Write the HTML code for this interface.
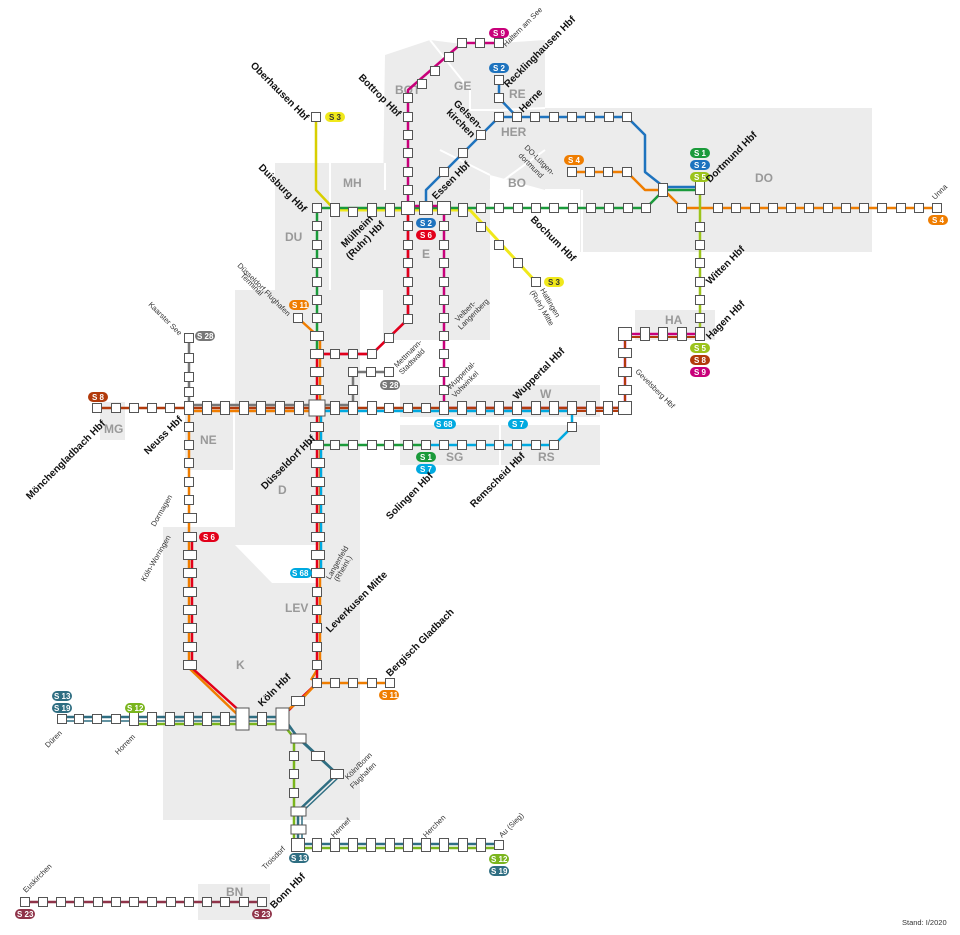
<!DOCTYPE html>
<html><head><meta charset="utf-8"><style>
html,body{margin:0;padding:0;background:#fff}
svg{display:block}
text{font-family:"Liberation Sans",sans-serif}
.r{font-size:12px;font-weight:bold;fill:#999}
.b{font-size:10px;font-weight:bold;fill:#111}
.s{font-size:7.5px;fill:#333}
.bd{font-size:8px;font-weight:bold;fill:#fff}
</style></head><body>
<svg width="960" height="935" viewBox="0 0 960 935" xmlns="http://www.w3.org/2000/svg">
<defs>
<rect id="s" x="-4.5" y="-4.5" width="9" height="9" fill="#fff" stroke="#555" stroke-width="1"/>
<rect id="S" x="-6.5" y="-6.5" width="13" height="13" fill="#fff" stroke="#555" stroke-width="1"/>
<rect id="h" x="-6.5" y="-4.5" width="13" height="9" fill="#fff" stroke="#555" stroke-width="1"/>
<rect id="v" x="-4.5" y="-6.5" width="9" height="13" fill="#fff" stroke="#555" stroke-width="1"/>
</defs>
<!-- regions -->
<g fill="#ececec">
<polygon points="385,55 430,40 470,45 545,40 545,108 872,108 872,252 580,252 580,190 545,190 490,175 490,340 383,340 383,190"/>
<rect x="275" y="163" width="110" height="127"/>
<rect x="235" y="290" width="125" height="255"/>
<polygon points="163,527 235,527 235,545 272,583 272,638 360,638 360,820 163,820"/>
<rect x="272" y="583" width="88" height="55"/>
<rect x="320" y="545" width="40" height="40"/>
<rect x="185" y="410" width="48" height="60"/>
<rect x="100" y="402" width="25" height="38"/>
<rect x="400" y="385" width="200" height="32"/>
<rect x="400" y="425" width="200" height="40"/>
<rect x="635" y="310" width="80" height="30"/>
<rect x="198" y="884" width="72" height="36"/>
</g>
<g stroke="#fff" stroke-width="2" fill="none">
<path d="M330,163 V290 M385,163 V190 M490,190 L545,150 M580,190 H545 M582,252 V190 M430,40 L470,90 L470,110 M470,110 L500,110 L545,108 M440,150 L490,175 M500,425 V465"/>
</g>
<g class="r">
<text x="395" y="94">BOT</text><text x="454" y="90">GE</text><text x="509" y="98">RE</text><text x="501" y="136">HER</text>
<text x="343" y="187">MH</text><text x="508" y="187">BO</text><text x="755" y="182">DO</text><text x="285" y="241">DU</text>
<text x="422" y="258">E</text><text x="665" y="324">HA</text><text x="540" y="398">W</text><text x="446" y="461">SG</text>
<text x="538" y="461">RS</text><text x="200" y="444">NE</text><text x="104" y="433">MG</text><text x="278" y="494">D</text>
<text x="285" y="612">LEV</text><text x="236" y="669">K</text><text x="226" y="896">BN</text>
</g>
<!-- lines -->
<g fill="none" stroke-width="2.5" stroke-linejoin="round">
<path d="M316,117 V190 L333,208" stroke="#d8cf00"/>
<path d="M333,210 H470 L536,282" stroke="#f0e81b" stroke-width="3"/>
<path d="M316,208 H646 L664,190 H700" stroke="#1a9a3a"/>
<path d="M426,210 V190 L499,117 H627 L645,135 V172 L664,187 H700" stroke="#1e73be"/>
<path d="M499,80 V98 L517,117" stroke="#1e73be"/>
<path d="M572,172 H627 L645,190 L664,190 L682,208 H938" stroke="#ef7d00"/>
<path d="M700,190 V334" stroke="#9bc31b"/>
<path d="M499,43 H462 L408,90 V319 L372,354 H317" stroke="#c8007a"/>
<path d="M408,210 V319 L372,354 H317" stroke="#e2001a"/>
<path d="M408,206 H444 V408 H625 V334 H700" stroke="#c8007a"/>
<path d="M444,411 H625 V337 H700" stroke="#b23a0b" stroke-width="2"/>
<path d="M97,408 H625" stroke="#b23a0b"/>
<path d="M189,405 H353 V372 H389 M189,338 V405" stroke="#777"/>
<path d="M189,411 H317 M298,318 L320,338 V665 L311,680" stroke="#ef7d00"/>
<path d="M317,208 V354" stroke="#1a9a3a"/>
<path d="M317,354 V683 L298,701 L283,716" stroke="#e2001a"/>
<path d="M321,411 H572 V427 L554,445 H426 M321,411 V573" stroke="#00a9e0"/>
<path d="M317,445 H426" stroke="#1a9a3a"/>
<path d="M317,683 H390 M317,683 L300,701 L283,713" stroke="#ef7d00"/>
<path d="M189,411 V668 L240,717" stroke="#ef7d00"/>
<path d="M192,537 V668 L243,714" stroke="#e2001a"/>
<path d="M62,717 H283 L298,738 L337,774 L298,811 V844 H499" stroke="#2f6e82"/>
<path d="M62,721 H283 L302,740 L340,776 L302,812 V848 H499" stroke="#2f6e82" stroke-width="1.5"/>
<path d="M135,724 H283 L294,738 V844 M294,848 H499" stroke="#7ab51d"/>
<path d="M25,902 H262" stroke="#8f3349"/>
</g>
<!-- stations -->
<g>
<use href="#s" x="316" y="117"/>
<use href="#s" x="462" y="43"/><use href="#s" x="480" y="43"/><use href="#s" x="499" y="43"/>
<use href="#s" x="449" y="57"/><use href="#s" x="435" y="71"/><use href="#s" x="422" y="84"/>
<use href="#s" x="408" y="98"/><use href="#s" x="408" y="117"/><use href="#s" x="408" y="135"/><use href="#s" x="408" y="153"/><use href="#s" x="408" y="172"/><use href="#s" x="408" y="190"/>
<use href="#s" x="499" y="80"/><use href="#s" x="499" y="98"/>
<use href="#s" x="499" y="117"/><use href="#s" x="517" y="117"/><use href="#s" x="535" y="117"/><use href="#s" x="554" y="117"/><use href="#s" x="572" y="117"/><use href="#s" x="590" y="117"/><use href="#s" x="609" y="117"/><use href="#s" x="627" y="117"/>
<use href="#s" x="481" y="135"/><use href="#s" x="463" y="153"/><use href="#s" x="444" y="172"/>
<use href="#s" x="572" y="172"/><use href="#s" x="590" y="172"/><use href="#s" x="608" y="172"/><use href="#s" x="627" y="172"/>
<use href="#s" x="317" y="208"/><use href="#v" x="335" y="210"/><use href="#s" x="353" y="212"/><use href="#v" x="372" y="210"/><use href="#v" x="390" y="210"/><use href="#S" x="408" y="208"/><use href="#S" x="426" y="208"/><use href="#S" x="444" y="208"/><use href="#v" x="463" y="210"/>
<use href="#s" x="481" y="208"/><use href="#s" x="499" y="208"/><use href="#s" x="518" y="208"/><use href="#s" x="536" y="208"/><use href="#s" x="554" y="208"/><use href="#s" x="573" y="208"/><use href="#s" x="591" y="208"/><use href="#s" x="609" y="208"/><use href="#s" x="628" y="208"/><use href="#s" x="646" y="208"/>
<use href="#v" x="663" y="190"/><use href="#v" x="700" y="188"/>
<use href="#s" x="682" y="208"/><use href="#s" x="718" y="208"/><use href="#s" x="736" y="208"/><use href="#s" x="755" y="208"/><use href="#s" x="773" y="208"/><use href="#s" x="791" y="208"/><use href="#s" x="809" y="208"/><use href="#s" x="828" y="208"/><use href="#s" x="846" y="208"/><use href="#s" x="864" y="208"/><use href="#s" x="882" y="208"/><use href="#s" x="901" y="208"/><use href="#s" x="919" y="208"/><use href="#s" x="937" y="208"/>
<use href="#s" x="481" y="227"/><use href="#s" x="499" y="245"/><use href="#s" x="518" y="263"/><use href="#s" x="536" y="282"/>
<use href="#s" x="700" y="227"/><use href="#s" x="700" y="245"/><use href="#s" x="700" y="263"/><use href="#s" x="700" y="282"/><use href="#s" x="700" y="300"/><use href="#s" x="700" y="318"/><use href="#v" x="700" y="334"/>
<use href="#S" x="625" y="334"/><use href="#v" x="645" y="334"/><use href="#v" x="663" y="334"/><use href="#v" x="682" y="334"/>
<use href="#h" x="625" y="353"/><use href="#h" x="625" y="372"/><use href="#h" x="625" y="390"/>
<use href="#s" x="408" y="226"/><use href="#s" x="408" y="245"/><use href="#s" x="408" y="263"/><use href="#s" x="408" y="282"/><use href="#s" x="408" y="300"/><use href="#s" x="408" y="319"/><use href="#s" x="389" y="338"/><use href="#s" x="372" y="354"/><use href="#s" x="353" y="354"/><use href="#s" x="335" y="354"/>
<use href="#s" x="444" y="226"/><use href="#s" x="444" y="245"/><use href="#s" x="444" y="263"/><use href="#s" x="444" y="282"/><use href="#s" x="444" y="300"/><use href="#s" x="444" y="318"/><use href="#s" x="444" y="336"/><use href="#s" x="444" y="354"/><use href="#s" x="444" y="372"/><use href="#s" x="444" y="390"/>
<use href="#s" x="317" y="226"/><use href="#s" x="317" y="245"/><use href="#s" x="317" y="263"/><use href="#s" x="317" y="282"/><use href="#s" x="317" y="300"/><use href="#s" x="317" y="318"/><use href="#h" x="317" y="336"/><use href="#h" x="317" y="354"/><use href="#h" x="317" y="372"/><use href="#h" x="317" y="390"/>
<use href="#s" x="298" y="318"/>
<use href="#s" x="189" y="338"/><use href="#s" x="189" y="358"/><use href="#s" x="189" y="377"/><use href="#s" x="189" y="392"/>
<use href="#s" x="353" y="372"/><use href="#s" x="371" y="372"/><use href="#s" x="389" y="372"/><use href="#s" x="353" y="390"/>
<use href="#s" x="97" y="408"/><use href="#s" x="116" y="408"/><use href="#s" x="134" y="408"/><use href="#s" x="152" y="408"/><use href="#s" x="170" y="408"/>
<use href="#v" x="189" y="408"/><use href="#v" x="207" y="408"/><use href="#v" x="225" y="408"/><use href="#v" x="244" y="408"/><use href="#v" x="261" y="408"/><use href="#v" x="280" y="408"/><use href="#v" x="299" y="408"/>
<rect x="309" y="400" width="16" height="16" fill="#fff" stroke="#555"/>
<use href="#v" x="335" y="408"/><use href="#v" x="353" y="408"/><use href="#v" x="372" y="408"/><use href="#s" x="389" y="408"/><use href="#s" x="408" y="408"/><use href="#s" x="426" y="408"/><use href="#v" x="444" y="408"/>
<use href="#v" x="462" y="408"/><use href="#v" x="481" y="408"/><use href="#v" x="499" y="408"/><use href="#v" x="517" y="408"/><use href="#v" x="536" y="408"/><use href="#v" x="554" y="408"/><use href="#v" x="572" y="408"/><use href="#v" x="591" y="408"/><use href="#v" x="608" y="408"/><use href="#S" x="625" y="408"/>
<use href="#s" x="572" y="427"/>
<use href="#h" x="317" y="427"/><use href="#h" x="317" y="445"/>
<use href="#s" x="335" y="445"/><use href="#s" x="353" y="445"/><use href="#s" x="372" y="445"/><use href="#s" x="389" y="445"/><use href="#s" x="408" y="445"/><use href="#s" x="426" y="445"/><use href="#s" x="444" y="445"/><use href="#s" x="462" y="445"/><use href="#s" x="481" y="445"/><use href="#s" x="499" y="445"/><use href="#s" x="517" y="445"/><use href="#s" x="536" y="445"/><use href="#s" x="554" y="445"/>
<use href="#s" x="189" y="427"/><use href="#s" x="189" y="445"/><use href="#s" x="189" y="463"/><use href="#s" x="189" y="482"/><use href="#s" x="189" y="500"/><use href="#h" x="190" y="518"/><use href="#h" x="190" y="537"/><use href="#h" x="190" y="555"/><use href="#h" x="190" y="573"/><use href="#h" x="190" y="592"/><use href="#h" x="190" y="610"/><use href="#h" x="190" y="628"/><use href="#h" x="190" y="647"/><use href="#h" x="190" y="665"/>
<use href="#h" x="318" y="463"/><use href="#h" x="318" y="482"/><use href="#h" x="318" y="500"/><use href="#h" x="318" y="518"/><use href="#h" x="318" y="537"/><use href="#h" x="318" y="555"/><use href="#h" x="318" y="573"/>
<use href="#s" x="317" y="592"/><use href="#s" x="317" y="610"/><use href="#s" x="317" y="628"/><use href="#s" x="317" y="647"/><use href="#s" x="317" y="665"/><use href="#s" x="317" y="683"/>
<use href="#s" x="335" y="683"/><use href="#s" x="353" y="683"/><use href="#s" x="372" y="683"/><use href="#s" x="390" y="683"/>
<use href="#h" x="298" y="701"/>
<use href="#s" x="62" y="719"/><use href="#s" x="79" y="719"/><use href="#s" x="97" y="719"/><use href="#s" x="116" y="719"/><use href="#v" x="134" y="719"/><use href="#v" x="152" y="719"/><use href="#v" x="170" y="719"/><use href="#v" x="189" y="719"/><use href="#v" x="207" y="719"/><use href="#v" x="225" y="719"/>
<rect x="236" y="708" width="13" height="22" fill="#fff" stroke="#555"/><use href="#v" x="262" y="719"/><rect x="276" y="708" width="13" height="22" fill="#fff" stroke="#555"/>
<rect x="291" y="734" width="15" height="9" fill="#fff" stroke="#555"/><use href="#h" x="318" y="756"/><use href="#h" x="337" y="774"/>
<use href="#s" x="294" y="756"/><use href="#s" x="294" y="774"/><use href="#s" x="294" y="793"/>
<rect x="291" y="807" width="15" height="9" fill="#fff" stroke="#555"/><rect x="291" y="825" width="15" height="9" fill="#fff" stroke="#555"/>
<use href="#S" x="298" y="845"/>
<use href="#v" x="317" y="845"/><use href="#v" x="335" y="845"/><use href="#v" x="353" y="845"/><use href="#v" x="371" y="845"/><use href="#v" x="390" y="845"/><use href="#v" x="408" y="845"/><use href="#v" x="426" y="845"/><use href="#v" x="444" y="845"/><use href="#v" x="463" y="845"/><use href="#v" x="481" y="845"/><use href="#s" x="499" y="845"/>
<use href="#s" x="25" y="902"/><use href="#s" x="43" y="902"/><use href="#s" x="61" y="902"/><use href="#s" x="79" y="902"/><use href="#s" x="98" y="902"/><use href="#s" x="116" y="902"/><use href="#s" x="134" y="902"/><use href="#s" x="152" y="902"/><use href="#s" x="171" y="902"/><use href="#s" x="189" y="902"/><use href="#s" x="207" y="902"/><use href="#s" x="225" y="902"/><use href="#s" x="244" y="902"/><use href="#s" x="262" y="902"/>
</g>
<!-- badges -->
<g>
<rect x="489" y="28" width="20" height="10" rx="5" fill="#c8007a"/><text class="bd" x="493" y="36">S 9</text>
<rect x="489" y="63" width="20" height="10" rx="5" fill="#1e73be"/><text class="bd" x="493" y="71">S 2</text>
<rect x="325" y="112" width="20" height="10" rx="5" fill="#f0e81b"/><text class="bd" x="329" y="120" style="fill:#333">S 3</text>
<rect x="564" y="155" width="20" height="10" rx="5" fill="#ef7d00"/><text class="bd" x="568" y="163">S 4</text>
<rect x="690" y="148" width="20" height="10" rx="5" fill="#1a9a3a"/><text class="bd" x="694" y="156">S 1</text>
<rect x="690" y="160" width="20" height="10" rx="5" fill="#1e73be"/><text class="bd" x="694" y="168">S 2</text>
<rect x="690" y="172" width="20" height="10" rx="5" fill="#9bc31b"/><text class="bd" x="694" y="180">S 5</text>
<rect x="928" y="215" width="20" height="10" rx="5" fill="#ef7d00"/><text class="bd" x="932" y="223">S 4</text>
<rect x="416" y="218" width="20" height="10" rx="5" fill="#1e73be"/><text class="bd" x="420" y="226">S 2</text>
<rect x="416" y="230" width="20" height="10" rx="5" fill="#e2001a"/><text class="bd" x="420" y="238">S 6</text>
<rect x="544" y="277" width="20" height="10" rx="5" fill="#f0e81b"/><text class="bd" x="548" y="285" style="fill:#333">S 3</text>
<rect x="289" y="300" width="20" height="10" rx="5" fill="#ef7d00"/><text class="bd" x="292" y="308">S 11</text>
<rect x="195" y="331" width="20" height="10" rx="5" fill="#777"/><text class="bd" x="197" y="339">S 28</text>
<rect x="380" y="380" width="20" height="10" rx="5" fill="#777"/><text class="bd" x="382" y="388">S 28</text>
<rect x="690" y="343" width="20" height="10" rx="5" fill="#9bc31b"/><text class="bd" x="694" y="351">S 5</text>
<rect x="690" y="355" width="20" height="10" rx="5" fill="#b23a0b"/><text class="bd" x="694" y="363">S 8</text>
<rect x="690" y="367" width="20" height="10" rx="5" fill="#c8007a"/><text class="bd" x="694" y="375">S 9</text>
<rect x="88" y="392" width="20" height="10" rx="5" fill="#b23a0b"/><text class="bd" x="92" y="400">S 8</text>
<rect x="434" y="419" width="22" height="10" rx="5" fill="#00a9e0"/><text class="bd" x="436" y="427">S 68</text>
<rect x="508" y="419" width="20" height="10" rx="5" fill="#00a9e0"/><text class="bd" x="512" y="427">S 7</text>
<rect x="416" y="452" width="20" height="10" rx="5" fill="#1a9a3a"/><text class="bd" x="420" y="460">S 1</text>
<rect x="416" y="464" width="20" height="10" rx="5" fill="#00a9e0"/><text class="bd" x="420" y="472">S 7</text>
<rect x="199" y="532" width="20" height="10" rx="5" fill="#e2001a"/><text class="bd" x="203" y="540">S 6</text>
<rect x="290" y="568" width="22" height="10" rx="5" fill="#00a9e0"/><text class="bd" x="292" y="576">S 68</text>
<rect x="379" y="690" width="20" height="10" rx="5" fill="#ef7d00"/><text class="bd" x="382" y="698">S 11</text>
<rect x="52" y="691" width="20" height="10" rx="5" fill="#2f6e82"/><text class="bd" x="54" y="699">S 13</text>
<rect x="52" y="703" width="20" height="10" rx="5" fill="#2f6e82"/><text class="bd" x="54" y="711">S 19</text>
<rect x="125" y="703" width="20" height="10" rx="5" fill="#7ab51d"/><text class="bd" x="127" y="711">S 12</text>
<rect x="289" y="853" width="20" height="10" rx="5" fill="#2f6e82"/><text class="bd" x="291" y="861">S 13</text>
<rect x="489" y="854" width="20" height="10" rx="5" fill="#7ab51d"/><text class="bd" x="491" y="862">S 12</text>
<rect x="489" y="866" width="20" height="10" rx="5" fill="#2f6e82"/><text class="bd" x="491" y="874">S 19</text>
<rect x="15" y="909" width="20" height="10" rx="5" fill="#8f3349"/><text class="bd" x="17" y="917">S 23</text>
<rect x="252" y="909" width="20" height="10" rx="5" fill="#8f3349"/><text class="bd" x="254" y="917">S 23</text>
</g>
<!-- bold labels -->
<g class="b">
<text transform="translate(250,66) rotate(45)">Oberhausen Hbf</text>
<text transform="translate(358,78) rotate(45)">Bottrop Hbf</text>
<text transform="translate(508,88) rotate(-45)">Recklinghausen Hbf</text>
<text transform="translate(523,113) rotate(-45)">Herne</text>
<text transform="translate(453,104) rotate(45)">Gelsen-</text>
<text transform="translate(446,113) rotate(45)">kirchen</text>
<text transform="translate(258,168) rotate(45)">Duisburg Hbf</text>
<text transform="translate(436,200) rotate(-45)">Essen Hbf</text>
<text transform="translate(345,248) rotate(-45)">Mülheim</text>
<text transform="translate(350,260) rotate(-45)">(Ruhr) Hbf</text>
<text transform="translate(530,220) rotate(45)">Bochum Hbf</text>
<text transform="translate(710,183) rotate(-45)">Dortmund Hbf</text>
<text transform="translate(710,285) rotate(-45)">Witten Hbf</text>
<text transform="translate(710,340) rotate(-45)">Hagen Hbf</text>
<text transform="translate(517,400) rotate(-45)">Wuppertal Hbf</text>
<text transform="translate(148,455) rotate(-45)">Neuss Hbf</text>
<text transform="translate(30,500) rotate(-45)">Mönchengladbach Hbf</text>
<text transform="translate(265,490) rotate(-45)">Düsseldorf Hbf</text>
<text transform="translate(390,520) rotate(-45)">Solingen Hbf</text>
<text transform="translate(474,508) rotate(-45)">Remscheid Hbf</text>
<text transform="translate(330,633) rotate(-45)">Leverkusen Mitte</text>
<text transform="translate(390,677) rotate(-45)">Bergisch Gladbach</text>
<text transform="translate(262,707) rotate(-45)">Köln Hbf</text>
<text transform="translate(274,909) rotate(-45)">Bonn Hbf</text>
</g>
<g class="s">
<text transform="translate(506,47) rotate(-45)">Haltern am See</text>
<text transform="translate(524,148) rotate(45)">DO-Lütgen-</text>
<text transform="translate(518,156) rotate(45)">dortmund</text>
<text transform="translate(935,200) rotate(-45)">Unna</text>
<text transform="translate(540,290) rotate(60)">Hattingen</text>
<text transform="translate(530,292) rotate(60)">(Ruhr) Mitte</text>
<text transform="translate(237,266) rotate(45)">Düsseldorf Flughafen</text>
<text transform="translate(240,276) rotate(45)">Terminal</text>
<text transform="translate(148,305) rotate(45)">Kaarster See</text>
<text transform="translate(458,322) rotate(-45)">Velbert-</text>
<text transform="translate(461,330) rotate(-45)">Langenberg</text>
<text transform="translate(397,368) rotate(-45)">Mettmann-</text>
<text transform="translate(402,375) rotate(-45)">Stadtwald</text>
<text transform="translate(450,390) rotate(-45)">Wuppertal-</text>
<text transform="translate(455,398) rotate(-45)">Vohwinkel</text>
<text transform="translate(635,372) rotate(45)">Gevelsberg Hbf</text>
<text transform="translate(155,527) rotate(-60)">Dormagen</text>
<text transform="translate(145,582) rotate(-60)">Köln-Worringen</text>
<text transform="translate(330,580) rotate(-60)">Langenfeld</text>
<text transform="translate(338,582) rotate(-60)">(Rheinl.)</text>
<text transform="translate(348,780) rotate(-45)">Köln/Bonn</text>
<text transform="translate(353,789) rotate(-45)">Flughafen</text>
<text transform="translate(48,748) rotate(-45)">Düren</text>
<text transform="translate(118,755) rotate(-45)">Horrem</text>
<text transform="translate(265,870) rotate(-45)">Troisdorf</text>
<text transform="translate(334,838) rotate(-45)">Hennef</text>
<text transform="translate(426,838) rotate(-45)">Herchen</text>
<text transform="translate(502,838) rotate(-45)">Au (Sieg)</text>
<text transform="translate(26,893) rotate(-45)">Euskirchen</text>
<text x="902" y="925">Stand: I/2020</text>
</g>
</svg>
</body></html>
